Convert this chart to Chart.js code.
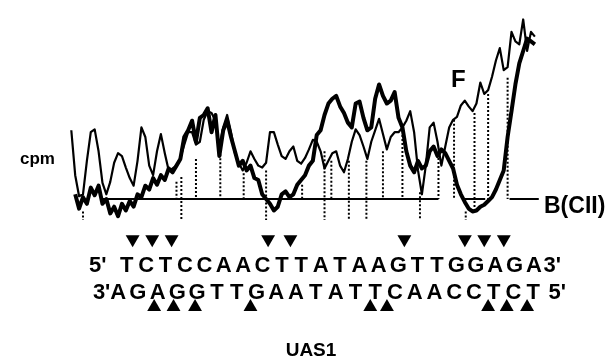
<!DOCTYPE html>
<html>
<head>
<meta charset="utf-8">
<script src="https://cdn.jsdelivr.net/npm/chart.js@4/dist/chart.umd.min.js"></script>
<style>
  body { margin: 0; background: #fff; }
  canvas { display: block; }
</style>
</head>
<body>
<canvas id="scan" width="613" height="358"></canvas>
<script>
"use strict";

// scan positions (arbitrary units along the gel lane)
const scanPos = Array.from({ length: 120 }, (_, i) => i);

// free DNA trace (F), counts above the background line
const freeTrace = [
  72, 25, 3, 5, 40, 70, 73, 50, 17, 5,
  18, 38, 48, 45, 33, 22, 14, 40, 75, 65,
  35, 25, 50, 68, 48, 30, 32, 35, 43, 57,
  70, 70, 57, 60, 83, 92, 90, 82, 55, 75,
  88, 70, 48, 38, 30, 38, 50, 42, 35, 33,
  38, 70, 70, 57, 45, 42, 50, 55, 40, 37,
  43, 52, 62, 60, 50, 32, 40, 48, 50, 35,
  28, 42, 60, 73, 67, 55, 42, 60, 72, 84,
  68, 52, 65, 70, 70, 75, 82, 92, 70, 30,
  5, 35, 75, 80, 60, 35, 55, 75, 83, 86,
  98, 103, 97, 92, 100, 122, 110, 114, 128, 145,
  158, 135, 138, 175, 165, 162, 188, 155, 175, 170
];

// DNA bound by CII (B(CII))
const boundTrace = [
  null, 5, -10, 2, -5, 12, 4, 14, -5, 0,
  -15, -8, -18, -5, -12, -2, -8, 5, 2, 14,
  10, 22, 15, 25, 20, 32, 28, 35, 42, 65,
  72, 82, 60, 85, 88, 95, 70, 88, 45, 72,
  82, 65, 50, 35, 40, 30, 35, 22, 20, 5,
  0, -5, -12, -8, 5, 8, 2, 5, 15, 20,
  25, 35, 40, 67, 72, 88, 100, 105, 108, 97,
  90, 80, 75, 100, 102, 85, 72, 75, 105, 120,
  108, 100, 103, 112, 85, 75, 50, 35, 28, 40,
  32, 35, 50, 55, 45, 52, 48, 40, 32, 15,
  5, -3, -10, -13, -12, -8, -6, -2, 2, 10,
  20, 30, 65, 92, 120, 142, 155, 168, 165, 162
];

// background line pieces [from, to]
const baseStarts = [8, 100.75, 112.5];
const baseEnds = [94.25, 106.25, 120];

// dotted drop lines: scan position, upper and lower count
const dropPos = [3, 27, 28.25, 32, 38.25, 44.25, 50, 59.25, 65, 66.75, 71.25, 75.75, 80, 85, 89.5, 94.25, 98.25, 101.25, 103.5, 107, 112];
const dropTop = [-13, 18, 23, 42, 47, 27, 30, 15, 50, 40, 40, 40, 50, 67, 7, 43, 83, -13, 90, 110, 127];
const dropBottom = [-22, 0, -22, 0, 0, 0, -22, 0, -22, 0, -22, -22, 0, 0, -22, 0, 0, -22, -10, 0, 0];

// sequence of UAS1
const topStrand = ["T", "C", "T", "C", "C", "A", "A", "C", "T", "T", "A", "T", "A", "A", "G", "T", "T", "G", "G", "A", "G", "A"];
const bottomStrand = ["A", "G", "A", "G", "G", "T", "T", "G", "A", "A", "T", "A", "T", "T", "C", "A", "A", "C", "C", "T", "C", "T"];

// protected / enhanced sites (nucleotide positions)
const topSites = [0.3, 1.31, 2.31, 7.29, 8.44, 14.32, 17.44, 18.44, 19.45];
const bottomSites = [1.41, 2.41, 3.52, 6.38, 12.56, 13.42, 18.64, 19.6, 20.65];

// layout
const TOP_ROW = -42;
const BOTTOM_ROW = -113;
const FONT = "'Liberation Sans', Arial, Helvetica, sans-serif";

function pairs(xs, ys) {
  return xs.map((x, i) => ({ x: x, y: ys[i] }));
}

let baseline = [];
baseStarts.forEach((s, i) => {
  baseline.push({ x: s, y: 0 }, { x: baseEnds[i], y: 0 }, { x: baseEnds[i], y: null });
});

let drops = [];
dropPos.forEach((p, i) => {
  drops.push({ x: p, y: dropTop[i] }, { x: p, y: dropBottom[i] }, { x: p, y: null });
});

const labels = {
  id: "labels",
  afterDatasetsDraw(chart) {
    const ctx = chart.ctx;
    const nt = chart.scales.nt;
    ctx.save();
    ctx.fillStyle = "#000";
    ctx.textBaseline = "alphabetic";

    ctx.font = "bold 17px " + FONT;
    ctx.textAlign = "left";
    ctx.fillText("cpm", 20, 164);

    ctx.font = "bold 24px " + FONT;
    ctx.fillText("F", 451, 87);

    ctx.font = "bold 23px " + FONT;
    ctx.fillText("B(CII)", 544, 213);

    ctx.font = "bold 22px " + FONT;
    ctx.textAlign = "center";
    topStrand.forEach((b, i) => {
      ctx.fillText(b, nt.getPixelForValue(i), 272);
    });
    ctx.fillText("5'", nt.getPixelForValue(-1.5), 272);
    ctx.fillText("3'", nt.getPixelForValue(21.95), 272);

    // bottom strand is set a little wider than the top one
    bottomStrand.forEach((b, i) => {
      ctx.fillText(b, nt.getPixelForValue(-0.45 + i * 1.02), 299);
    });
    ctx.fillText("3'", nt.getPixelForValue(-1.3), 299);
    ctx.fillText("5'", nt.getPixelForValue(22.2), 299);

    ctx.font = "bold 19px " + FONT;
    ctx.fillText("UAS1", 311, 356);
    ctx.restore();
  }
};

const scanChart = new Chart(document.getElementById("scan"), {
  type: "line",
  data: {
    datasets: [
      {
        label: "B(CII)",
        data: pairs(scanPos, boundTrace),
        borderColor: "#000",
        borderWidth: 4,
        borderJoinStyle: "round",
        pointRadius: 0,
        tension: 0,
        spanGaps: false
      },
      {
        label: "F",
        data: pairs(scanPos, freeTrace),
        borderColor: "#000",
        borderWidth: 2.2,
        borderJoinStyle: "round",
        pointRadius: 0,
        tension: 0
      },
      {
        label: "background",
        data: baseline,
        borderColor: "#000",
        borderWidth: 2,
        pointRadius: 0,
        spanGaps: false
      },
      {
        label: "drops",
        data: drops,
        borderColor: "#000",
        borderWidth: 2,
        borderDash: [2, 2],
        pointRadius: 0,
        spanGaps: false
      },
      {
        type: "scatter",
        label: "top sites",
        xAxisID: "nt",
        data: topSites.map((s) => ({ x: s, y: TOP_ROW })),
        pointStyle: "triangle",
        rotation: 180,
        pointRadius: 8,
        backgroundColor: "#000",
        borderColor: "#000",
        borderWidth: 0
      },
      {
        type: "scatter",
        label: "bottom sites",
        xAxisID: "nt",
        data: bottomSites.map((s) => ({ x: s, y: BOTTOM_ROW })),
        pointStyle: "triangle",
        pointRadius: 8,
        backgroundColor: "#000",
        borderColor: "#000",
        borderWidth: 0
      }
    ]
  },
  options: {
    responsive: false,
    animation: false,
    events: [],
    layout: { padding: 0 },
    plugins: { legend: { display: false }, tooltip: { enabled: false } },
    scales: {
      x: { type: "linear", min: -16.25, max: 137, display: false },
      nt: { type: "linear", axis: "x", min: -6.13, max: 24.67, display: false },
      y: { type: "linear", min: -158, max: 200, display: false }
    }
  },
  plugins: [labels]
});
</script>
</body>
</html>
